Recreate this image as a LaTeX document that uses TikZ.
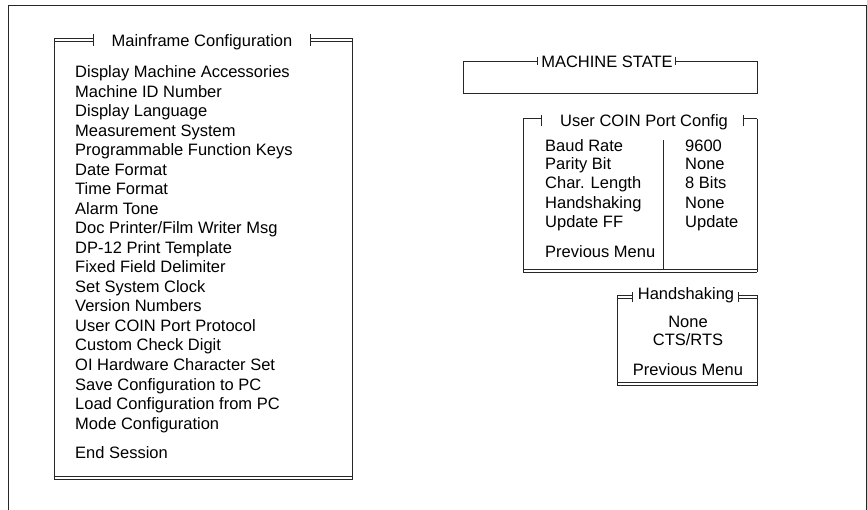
\documentclass[tikz,border=0pt]{standalone}
\usepackage{fontspec}
\setmainfont{Liberation Sans}
\usepackage{tikz}
\pgfdeclarelayer{nodelayer}
\pgfdeclarelayer{edgelayer}
\pgfsetlayers{edgelayer,nodelayer,main}
\tikzstyle{none}=[inner sep=0pt]
\tikzstyle{menu}=[inner sep=0pt, anchor=base west, font=\fontsize{16.5}{19.5}\selectfont]
\tikzstyle{heading}=[inner sep=0pt, anchor=base, font=\fontsize{16.5}{19.5}\selectfont]
\tikzset{rule/.style={draw=black!85, line width=0.9pt}}
\tikzset{twin/.style={rule, double=white, double distance=2.2pt}}

\begin{document}
\begin{tikzpicture}[x=1pt, y=-1pt]
	\useasboundingbox (0, 0) rectangle (867, 510);
	\begin{pgfonlayer}{nodelayer}
		% outer frame
		\node [style=none] (0) at (8, 510) {};
		\node [style=none] (1) at (8, 6) {};
		\node [style=none] (2) at (866, 6) {};
		\node [style=none] (3) at (866, 510) {};
		% mainframe menu
		\node [style=none] (4) at (54, 38) {};
		\node [style=none] (5) at (54, 480) {};
		\node [style=none] (6) at (352, 38) {};
		\node [style=none] (7) at (352, 480) {};
		\node [style=none] (8) at (54, 40) {};
		\node [style=none] (9) at (93, 40) {};
		\node [style=none] (10) at (93, 34) {};
		\node [style=none] (11) at (93, 46) {};
		\node [style=none] (12) at (310, 40) {};
		\node [style=none] (13) at (352, 40) {};
		\node [style=none] (14) at (310, 34) {};
		\node [style=none] (15) at (310, 46) {};
		\node [style=none] (16) at (54, 478) {};
		\node [style=none] (17) at (352, 478) {};
		\node [style=heading] (18) at (202, 47) {Mainframe Configuration};
		\node [style=menu] (19) at (75, 78) {Display Machine Accessories};
		\node [style=menu] (20) at (75, 97.5) {Machine ID Number};
		\node [style=menu] (21) at (75, 117) {Display Language};
		\node [style=menu] (22) at (75, 136.5) {Measurement System};
		\node [style=menu] (23) at (75, 156) {Programmable Function Keys};
		\node [style=menu] (24) at (75, 175.5) {Date Format};
		\node [style=menu] (25) at (75, 195) {Time Format};
		\node [style=menu] (26) at (75, 214.5) {Alarm Tone};
		\node [style=menu] (27) at (75, 234) {Doc Printer/Film Writer Msg};
		\node [style=menu] (28) at (75, 253.5) {DP-12 Print Template};
		\node [style=menu] (29) at (75, 273) {Fixed Field Delimiter};
		\node [style=menu] (30) at (75, 292.5) {Set System Clock};
		\node [style=menu] (31) at (75, 312) {Version Numbers};
		\node [style=menu] (32) at (75, 331.5) {User COIN Port Protocol};
		\node [style=menu] (33) at (75, 351) {Custom Check Digit};
		\node [style=menu] (34) at (75, 370.5) {OI Hardware Character Set};
		\node [style=menu] (35) at (75, 390) {Save Configuration to PC};
		\node [style=menu] (36) at (75, 409.5) {Load Configuration from PC};
		\node [style=menu] (37) at (75, 429) {Mode Configuration};
		\node [style=menu] (38) at (75, 458) {End Session};
		% machine state
		\node [style=none] (40) at (463, 61) {};
		\node [style=none] (41) at (537, 61) {};
		\node [style=none] (42) at (537, 57) {};
		\node [style=none] (43) at (537, 65) {};
		\node [style=heading] (44) at (607, 68) {MACHINE STATE};
		\node [style=none] (45) at (675, 57) {};
		\node [style=none] (46) at (675, 65) {};
		\node [style=none] (47) at (675, 61) {};
		\node [style=none] (48) at (757, 61) {};
		\node [style=none] (49) at (757, 93) {};
		\node [style=none] (50) at (463, 93) {};
		% user coin port config
		\node [style=none] (51) at (523, 119) {};
		\node [style=none] (52) at (523, 272.5) {};
		\node [style=none] (53) at (757, 119) {};
		\node [style=none] (54) at (757, 272.5) {};
		\node [style=none] (55) at (523, 120.5) {};
		\node [style=none] (56) at (541, 120.5) {};
		\node [style=none] (57) at (541, 115) {};
		\node [style=none] (58) at (541, 126) {};
		\node [style=none] (59) at (743, 120.5) {};
		\node [style=none] (60) at (757, 120.5) {};
		\node [style=none] (61) at (743, 115) {};
		\node [style=none] (62) at (743, 126) {};
		\node [style=none] (63) at (523, 271) {};
		\node [style=none] (64) at (757, 271) {};
		\node [style=none] (65) at (663, 140) {};
		\node [style=none] (66) at (663, 270) {};
		\node [style=heading] (67) at (644, 127) {User COIN Port Config};
		\node [style=menu] (68) at (545, 152) {Baud Rate};
		\node [style=menu] (69) at (545, 170) {Parity Bit};
		\node [style=menu] (70) at (545, 189) {Char. Length};
		\node [style=menu] (71) at (545, 209) {Handshaking};
		\node [style=menu] (72) at (545, 228) {Update FF};
		\node [style=menu] (73) at (545, 258) {Previous Menu};
		\node [style=menu] (74) at (685, 152) {9600};
		\node [style=menu] (75) at (685, 170) {None};
		\node [style=menu] (76) at (685, 189) {8 Bits};
		\node [style=menu] (77) at (685, 209) {None};
		\node [style=menu] (78) at (685, 228) {Update};
		% handshaking
		\node [style=none] (79) at (617, 295.5) {};
		\node [style=none] (80) at (617, 385.5) {};
		\node [style=none] (81) at (757, 295.5) {};
		\node [style=none] (82) at (757, 385.5) {};
		\node [style=none] (83) at (617, 297) {};
		\node [style=none] (84) at (632, 297) {};
		\node [style=none] (85) at (632, 292) {};
		\node [style=none] (86) at (632, 302) {};
		\node [style=none] (87) at (738, 297) {};
		\node [style=none] (88) at (757, 297) {};
		\node [style=none] (89) at (738, 292) {};
		\node [style=none] (90) at (738, 302) {};
		\node [style=none] (91) at (617, 384) {};
		\node [style=none] (92) at (757, 384) {};
		\node [style=heading] (93) at (686, 300) {Handshaking};
		\node [style=heading] (94) at (688, 328) {None};
		\node [style=heading] (95) at (688, 345) {CTS/RTS};
		\node [style=heading] (96) at (688, 375) {Previous Menu};
	\end{pgfonlayer}
	\begin{pgfonlayer}{edgelayer}
		\draw [style=rule, line width=1pt] (0.center) -- (1.center) -- (2.center) -- (3.center);
		\draw [style=twin] (8.center) to (9.center);
		\draw [style=twin] (12.center) to (13.center);
		\draw [style=twin] (16.center) to (17.center);
		\draw [style=rule] (10.center) to (11.center);
		\draw [style=rule] (14.center) to (15.center);
		\draw [style=rule] (4.center) to (5.center);
		\draw [style=rule] (6.center) to (7.center);
		\draw [style=rule] (41.center) -- (40.center) -- (50.center) -- (49.center) -- (48.center) -- (47.center);
		\draw [style=rule] (42.center) to (43.center);
		\draw [style=rule] (45.center) to (46.center);
		\draw [style=twin] (55.center) to (56.center);
		\draw [style=twin] (59.center) to (60.center);
		\draw [style=twin] (63.center) to (64.center);
		\draw [style=rule] (57.center) to (58.center);
		\draw [style=rule] (61.center) to (62.center);
		\draw [style=rule] (51.center) to (52.center);
		\draw [style=rule] (53.center) to (54.center);
		\draw [style=rule] (65.center) to (66.center);
		\draw [style=twin] (83.center) to (84.center);
		\draw [style=twin] (87.center) to (88.center);
		\draw [style=twin] (91.center) to (92.center);
		\draw [style=rule] (85.center) to (86.center);
		\draw [style=rule] (89.center) to (90.center);
		\draw [style=rule] (79.center) to (80.center);
		\draw [style=rule] (81.center) to (82.center);
	\end{pgfonlayer}
\end{tikzpicture}
\end{document}
